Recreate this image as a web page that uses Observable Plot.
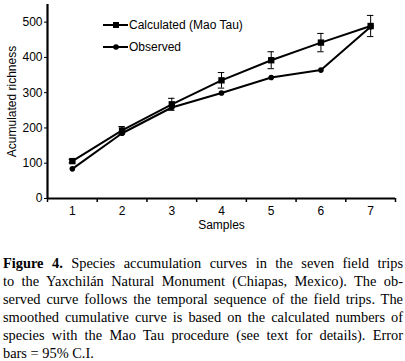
<!DOCTYPE html>
<html>
<head>
<meta charset="utf-8">
<script src="https://cdn.jsdelivr.net/npm/d3@7"></script>
<script src="https://cdn.jsdelivr.net/npm/@observablehq/plot@0.6"></script>
<style>
  html, body { margin: 0; padding: 0; background: #fff; }
  #wrap { position: relative; width: 405px; }
  #legend { position: absolute; left: 103px; top: 17px; font: 12px "Liberation Sans", Arial, sans-serif; color: #000; }
  #legend .row { display: flex; align-items: center; height: 16px; margin-bottom: 6px; }
  #legend svg { display: block; margin-right: 1px; }
  #caption { font: 14.4px/18px "Liberation Serif", "Times New Roman", serif; margin: 4px 2px 0 3px; color: #000; }
  #caption .ln { white-space: nowrap; text-align: justify; text-align-last: justify; }
  #caption .ln.last { text-align-last: left; }
</style>
</head>
<body>
<div id="wrap">
  <div id="chart"></div>
  <div id="legend"></div>
  <div id="caption"></div>
</div>
<script>
const samples = [1, 2, 3, 4, 5, 6, 7];
const calculated = [106, 193, 267, 335, 392, 442, 489];
const calcError = [5, 11, 17, 22, 24, 26, 30];
const observed = [84, 185, 258, 299, 343, 364, 487];
const yTicks = [0, 100, 200, 300, 400, 500];
const seriesNames = ["Calculated (Mao Tau)", "Observed"];
const captionLines = [
  "<b>Figure 4.</b> Species accumulation curves in the seven field trips",
  "to the Yaxchilán Natural Monument (Chiapas, Mexico). The ob-",
  "served curve follows the temporal sequence of the field trips. The",
  "smoothed cumulative curve is based on the calculated numbers of",
  "species with the Mao Tau procedure (see text for details). Error",
  "bars = 95% C.I."
];

const calcData = samples.map((s, i) => ({x: s, y: calculated[i], lo: calculated[i] - calcError[i], hi: calculated[i] + calcError[i]}));
const obsData = samples.map((s, i) => ({x: s, y: observed[i]}));
const edges = [0.5, ...samples.map(s => s + 0.5)];

const chart = Plot.plot({
  width: 405,
  height: 250,
  marginLeft: 47,
  marginRight: 10,
  marginTop: 4,
  marginBottom: 52,
  style: {fontFamily: "'Liberation Sans', Arial, sans-serif", fontSize: "12px", color: "#000", background: "#fff"},
  x: {domain: [0.5, 7.5]},
  y: {domain: [0, 550]},
  marks: [
    Plot.axisX({ticks: edges, tickFormat: () => "", tickSize: 4, strokeWidth: 1.5, label: null}),
    Plot.axisX({ticks: samples, tickSize: 0, tickPadding: 8, tickFormat: d => String(d), fontSize: 12, label: "Samples", labelAnchor: "center", labelArrow: "none", labelOffset: 30}),
    Plot.axisY({ticks: yTicks, tickSize: 3, tickPadding: 2, fontSize: 12, label: "Acumulated richness", labelAnchor: "center", labelArrow: "none", labelOffset: 40}),
    Plot.ruleY([0], {strokeWidth: 2.2}),
    Plot.ruleX([0.5], {y1: 0, y2: 550, strokeWidth: 2.2}),
    Plot.ruleX(calcData, {x: "x", y1: "lo", y2: "hi", strokeWidth: 1}),
    Plot.ruleY(calcData, {y: "hi", x1: d => d.x - 0.065, x2: d => d.x + 0.065, strokeWidth: 1}),
    Plot.ruleY(calcData, {y: "lo", x1: d => d.x - 0.065, x2: d => d.x + 0.065, strokeWidth: 1}),
    Plot.line(calcData, {x: "x", y: "y", stroke: "#000", strokeWidth: 2}),
    Plot.dot(calcData, {x: "x", y: "y", symbol: "square", r: 3.6, fill: "#000", stroke: "none"}),
    Plot.line(obsData, {x: "x", y: "y", stroke: "#000", strokeWidth: 2}),
    Plot.dot(obsData, {x: "x", y: "y", symbol: "circle", r: 2.8, fill: "#000", stroke: "none"})
  ]
});
document.getElementById("chart").appendChild(chart);

const legend = document.getElementById("legend");
seriesNames.forEach((name, i) => {
  const row = document.createElement("div");
  row.className = "row";
  const marker = i === 0
    ? '<rect x="10" y="5" width="6" height="6" fill="#000"/>'
    : '<circle cx="13" cy="8" r="2.8" fill="#000"/>';
  row.innerHTML = `<svg width="25" height="16"><line x1="0" x2="25" y1="8" y2="8" stroke="#000" stroke-width="2"/>${marker}</svg><span>${name}</span>`;
  legend.appendChild(row);
});

const caption = document.getElementById("caption");
captionLines.forEach((t, i) => {
  const d = document.createElement("div");
  d.className = "ln" + (i === captionLines.length - 1 ? " last" : "");
  d.innerHTML = t;
  caption.appendChild(d);
});
</script>
</body>
</html>
